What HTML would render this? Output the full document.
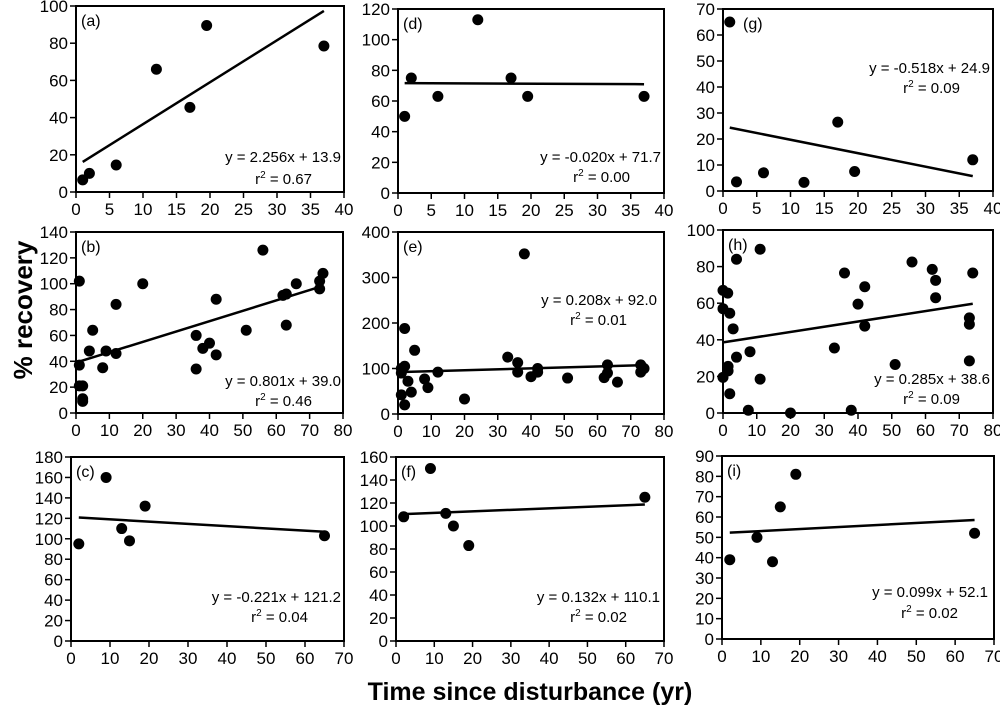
<!DOCTYPE html>
<html><head><meta charset="utf-8"><style>
body{margin:0;background:#fff;width:1000px;height:715px;overflow:hidden}
svg{display:block;font-family:"Liberation Sans",Arial,sans-serif}
</style></head><body>
<svg id="fig" width="1000" height="715">
<text x="0" y="0" transform="translate(32,310) rotate(-90)" text-anchor="middle" font-size="26" font-weight="bold">% recovery</text>
<text x="530" y="700" text-anchor="middle" font-size="25" font-weight="bold">Time since disturbance (yr)</text>
</svg>
<script>
// panel data
const aX=[1,2,6,12,17,19.5,37];
const aY=[6.5,10,14.5,66,45.5,89.5,78.5];
const dX=[1,2,6,12,17,19.5,37];
const dY=[50,75,63,113,75,63,63];
const gX=[1,2,6,12,17,19.5,37];
const gY=[65,3.5,7,3.3,26.5,7.5,12];
const bX=[1,1,1,2,2,2,4,5,8,9,12,12,20,36,36,38,40,42,42,51,56,62,63,63,66,73,73,74];
const bY=[102,37,21,21,11,9,48,64,35,48,46,84,100,60,34,50,54,45,88,64,126,91,92,68,100,96,102,108];
const eX=[1,1,1,2,2,2,3,4,5,8,9,12,20,33,36,36,38,40,42,42,51,62,63,63,66,73,73,74];
const eY=[100,42,90,188,105,20,72,48,140,77,58,92,33,125,113,92,352,82,100,92,79,80,108,90,70,108,92,100];
const hX=[0,1.4,0,2,3,4,11,4,8,11,1.5,1.5,0,2,7.5,20,33,36,38,40,42,42,51,56,62,63,63,73,73,73,74];
const hY=[67,65.5,57,54.5,46,84,89.5,30.5,33.5,18.5,25.5,23,19.5,10.5,1.5,0,35.5,76.5,1.5,59.5,69,47.5,26.5,82.5,78.5,72.5,63,52,48.5,28.5,76.5];
const cX=[2,9,13,15,19,65];
const cY=[95,160,110,98,132,103];
const fX=[2,9,13,15,19,65];
const fY=[108,150,111,100,83,125];
const iX=[2,9,13,15,19,65];
const iY=[39,50,38,65,81,52];
const NS='http://www.w3.org/2000/svg';
const svg=document.getElementById('fig');
function mk(tag,attrs,parent){const e=document.createElementNS(NS,tag);for(const k in attrs)e.setAttribute(k,attrs[k]);(parent||svg).appendChild(e);return e;}
const panels=[
 {id:'a',L:76,R:344,T:6,B:192,xmax:40,xstep:5,ymax:100,ystep:20,X:aX,Y:aY,m:2.256,c:13.9,x0:1,x1:37,eq:'y = 2.256x + 13.9',r2:'0.67',ex:341,ey:162,rx:312,ry:184,lx:5},
 {id:'d',L:398,R:664,T:9,B:193,xmax:40,xstep:5,ymax:120,ystep:20,X:dX,Y:dY,m:-0.020,c:71.7,x0:1,x1:37,eq:'y = -0.020x + 71.7',r2:'0.00',ex:661,ey:162,rx:630,ry:182,lx:5},
 {id:'g',L:723,R:993,T:9,B:191,xmax:40,xstep:5,ymax:70,ystep:10,X:gX,Y:gY,m:-0.518,c:24.9,x0:1,x1:37,eq:'y = -0.518x + 24.9',r2:'0.09',ex:990,ey:73,rx:960,ry:93,lx:20},
 {id:'b',L:76,R:343,T:232,B:413,xmax:80,xstep:10,ymax:140,ystep:20,X:bX,Y:bY,m:0.801,c:39.0,x0:0,x1:73,eq:'y = 0.801x + 39.0',r2:'0.46',ex:341,ey:386,rx:312,ry:406,lx:5},
 {id:'e',L:398,R:664,T:232,B:414,xmax:80,xstep:10,ymax:400,ystep:100,X:eX,Y:eY,m:0.208,c:92.0,x0:0,x1:74,eq:'y = 0.208x + 92.0',r2:'0.01',ex:657,ey:305,rx:627,ry:325,lx:5},
 {id:'h',L:723,R:993,T:230,B:413,xmax:80,xstep:10,ymax:100,ystep:20,X:hX,Y:hY,m:0.285,c:38.6,x0:0,x1:74,eq:'y = 0.285x + 38.6',r2:'0.09',ex:990,ey:384,rx:960,ry:404,lx:5},
 {id:'c',L:71,R:344,T:457,B:641,xmax:70,xstep:10,ymax:180,ystep:20,X:cX,Y:cY,m:-0.221,c:121.2,x0:2,x1:65,eq:'y = -0.221x + 121.2',r2:'0.04',ex:341,ey:602,rx:308,ry:622,lx:5},
 {id:'f',L:396,R:664,T:457,B:641,xmax:70,xstep:10,ymax:160,ystep:20,X:fX,Y:fY,m:0.132,c:110.1,x0:2,x1:65,eq:'y = 0.132x + 110.1',r2:'0.02',ex:660,ey:602,rx:627,ry:622,lx:5},
 {id:'i',L:722,R:994,T:456,B:639,xmax:70,xstep:10,ymax:90,ystep:10,X:iX,Y:iY,m:0.099,c:52.1,x0:2,x1:65,eq:'y = 0.099x + 52.1',r2:'0.02',ex:988,ey:597,rx:958,ry:618,lx:5}
];
panels.forEach(p=>{
 const g=mk('g',{});
 
 
 const sx=v=>p.L+(v/p.xmax)*(p.R-p.L);
 const sy=v=>p.B-(v/p.ymax)*(p.B-p.T);
 const box=mk('rect',{x:p.L,y:p.T,width:p.R-p.L,height:p.B-p.T,fill:'none',stroke:'#000','stroke-width':2},g);
 
 
 for(let v=0;v<=p.xmax+1e-9;v+=p.xstep){
  mk('line',{x1:sx(v),x2:sx(v),y1:p.B,y2:p.B+6,stroke:'#000','stroke-width':1.5},g);
  const t=mk('text',{x:sx(v),y:p.B+23,'text-anchor':'middle','font-size':17},g);
  t.textContent=v;
  
  
 }
 for(let v=0;v<=p.ymax+1e-9;v+=p.ystep){
  mk('line',{x1:p.L-6,x2:p.L,y1:sy(v),y2:sy(v),stroke:'#000','stroke-width':1.5},g);
  const t=mk('text',{x:p.L-8,y:sy(v)+6,'text-anchor':'end','font-size':17},g);
  t.textContent=v;
  
  
 }
 const lab=mk('text',{x:p.L+p.lx,y:p.T+20,'font-size':16},g);
 lab.textContent='('+p.id+')';
 
 
 const ln=mk('line',{x1:sx(p.x0),y1:sy(p.m*p.x0+p.c),x2:sx(p.x1),y2:sy(p.m*p.x1+p.c),stroke:'#000','stroke-width':2.5},g);
 
 
 p.X.forEach((x,k)=>{
  const c=mk('circle',{cx:sx(x),cy:sy(p.Y[k]),r:5.5,fill:'#000'},g);
  
  
 });
 const eq=mk('text',{x:p.ex,y:p.ey,'text-anchor':'end','font-size':15},g);
 eq.textContent=p.eq;
 
 
 const r=mk('text',{x:p.rx,y:p.ry,'text-anchor':'end','font-size':15},g);
 r.innerHTML='r<tspan dy="-6" font-size="10">2</tspan><tspan dy="6"> = '+p.r2+'</tspan>';
 
 
});
</script>
</body></html>
